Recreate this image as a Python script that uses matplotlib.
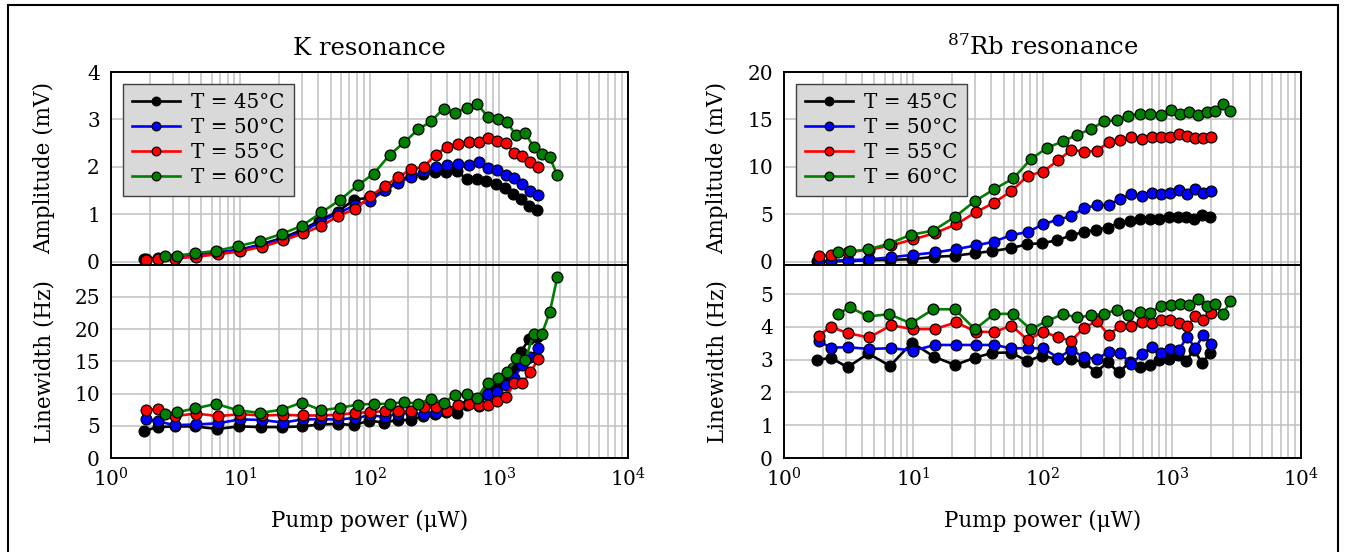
import matplotlib
matplotlib.use("Agg")
import matplotlib.pyplot as plt
from matplotlib.patches import Rectangle
from matplotlib.ticker import LogLocator, NullFormatter

# ---------------------------------------------------------------------------
# Data
# ---------------------------------------------------------------------------

temps = ["T = 45°C", "T = 50°C", "T = 55°C", "T = 60°C"]
colors = ["black", "blue", "red", "green"]

# pump power (uW) for each temperature series
x45 = [1.8, 2.3, 3.1, 4.5, 6.6, 9.8, 14.5, 21, 30, 41, 57, 76, 99, 130, 166, 208,
       260, 320, 390, 475, 566, 680, 800, 950, 1110, 1290, 1490, 1720, 1980]
x50 = [1.85, 2.3, 3.1, 4.55, 6.75, 10.0, 14.8, 21.5, 30.5, 42, 57.5, 77, 101, 132, 167,
       210, 263, 325, 397, 485, 584, 700, 820, 965, 1135, 1320, 1520, 1760, 2030]
x55 = x50
x60 = [2.62, 3.24, 4.48, 6.5, 9.6, 14.3, 21, 30, 42.5, 59.5, 81, 108, 144, 186, 238,
       299, 374, 462, 566, 680, 820, 982, 1160, 1360, 1600, 1860, 2160, 2480, 2840]

# K resonance
k_amp45 = [0.06, 0.09, 0.09, 0.13, 0.18, 0.25, 0.37, 0.5, 0.67, 0.87, 1.06, 1.31, 1.35, 1.52,
           1.7, 1.81, 1.86, 1.89, 1.89, 1.91, 1.74, 1.74, 1.7, 1.63, 1.55, 1.42, 1.33, 1.17, 1.09]
k_amp50 = [0.06, 0.07, 0.08, 0.14, 0.2, 0.26, 0.35, 0.48, 0.64, 0.85, 1.03, 1.19, 1.29, 1.51,
           1.67, 1.79, 1.91, 2.0, 2.05, 2.07, 2.04, 2.11, 1.97, 1.93, 1.82, 1.77, 1.65, 1.5, 1.4]
k_amp55 = [0.04, 0.06, 0.07, 0.11, 0.16, 0.22, 0.32, 0.45, 0.6, 0.75, 0.97, 1.11, 1.38, 1.6,
           1.79, 1.95, 2.0, 2.26, 2.42, 2.49, 2.52, 2.53, 2.6, 2.55, 2.5, 2.3, 2.22, 2.11, 1.99]
k_amp60 = [0.12, 0.13, 0.18, 0.23, 0.33, 0.44, 0.59, 0.76, 1.04, 1.31, 1.61, 1.86, 2.26, 2.52,
           2.79, 2.96, 3.23, 3.14, 3.25, 3.33, 3.06, 3.01, 2.94, 2.67, 2.71, 2.43, 2.28, 2.2, 1.83]

k_lw45 = [4.2, 4.8, 4.9, 4.9, 4.5, 4.9, 4.8, 4.8, 4.9, 5.2, 5.3, 5.1, 5.8, 5.5, 5.9, 5.9,
          6.5, 6.9, 7.1, 7.0, 8.3, 9.0, 10.0, 11.0, 12.3, 14.0, 16.5, 18.5, 18.8]
k_lw50 = [6.0, 5.7, 5.1, 5.2, 5.4, 6.0, 5.9, 5.5, 6.0, 6.0, 6.0, 6.2, 6.6, 6.4, 6.9, 7.0,
          6.8, 7.0, 7.5, 8.1, 8.5, 8.0, 10.0, 10.3, 11.3, 12.4, 14.5, 15.7, 17.0]
k_lw55 = [7.4, 7.6, 6.5, 6.9, 6.5, 6.8, 6.6, 6.7, 6.6, 6.6, 6.7, 7.0, 7.1, 7.3, 7.3, 7.3,
          7.9, 7.9, 7.3, 8.2, 8.4, 8.3, 8.3, 8.8, 9.4, 11.6, 11.6, 13.4, 15.4]
k_lw60 = [6.9, 7.1, 7.7, 8.4, 7.4, 7.0, 7.5, 8.6, 7.4, 7.8, 8.3, 8.4, 8.4, 8.7, 8.4, 9.2,
          8.6, 9.8, 10.0, 9.3, 11.7, 12.4, 13.3, 15.5, 15.2, 19.2, 19.3, 22.6, 28.1]

# 87Rb resonance
rb_amp45 = [0.04, 0.07, 0.07, 0.18, 0.21, 0.28, 0.53, 0.64, 0.92, 1.13, 1.45, 1.84, 1.98, 2.26,
            2.79, 3.14, 3.39, 3.6, 4.1, 4.31, 4.56, 4.56, 4.56, 4.73, 4.73, 4.73, 4.56, 4.91, 4.73]
rb_amp50 = [0.07, 0.11, 0.18, 0.25, 0.49, 0.74, 0.99, 1.34, 1.73, 2.12, 2.83, 3.14, 3.96, 4.45,
            4.81, 5.69, 5.94, 6.04, 6.57, 7.17, 6.93, 7.28, 7.14, 7.28, 7.56, 7.17, 7.67, 7.21, 7.49]
rb_amp55 = [0.6, 0.74, 1.0, 1.27, 1.73, 2.37, 3.04, 3.96, 5.23, 6.22, 7.46, 9.08, 9.5, 10.7,
            11.8, 11.6, 11.7, 12.6, 12.8, 13.1, 12.9, 13.2, 13.1, 13.1, 13.5, 13.3, 13.0, 13.0, 13.1]
rb_amp60 = [1.02, 1.10, 1.31, 1.91, 2.86, 3.29, 4.74, 6.4, 7.67, 8.8, 10.8, 12.0, 12.7, 13.4,
            14.0, 14.8, 14.9, 15.4, 15.6, 15.6, 15.5, 16.0, 15.6, 15.8, 15.5, 15.8, 15.9, 16.6, 15.9]

rb_lw45 = [2.99, 3.06, 2.77, 3.19, 2.81, 3.52, 3.09, 2.84, 3.06, 3.21, 3.22, 2.96, 3.12, 3.02,
           3.02, 2.92, 2.63, 2.92, 2.61, 2.94, 2.77, 2.84, 2.99, 3.02, 3.14, 2.97, 3.30, 2.89, 3.21]
rb_lw50 = [3.57, 3.37, 3.38, 3.33, 3.35, 3.28, 3.45, 3.45, 3.45, 3.45, 3.35, 3.35, 3.35, 3.06,
           3.30, 3.07, 3.02, 3.24, 3.22, 2.87, 3.16, 3.38, 3.19, 3.33, 3.30, 3.70, 3.35, 3.76, 3.47]
rb_lw55 = [3.73, 4.01, 3.81, 3.68, 4.05, 3.93, 3.94, 4.14, 3.86, 3.84, 4.04, 3.60, 3.86, 3.68,
           3.58, 3.98, 4.18, 3.76, 4.03, 4.03, 4.14, 4.11, 4.21, 4.21, 4.13, 4.03, 4.32, 4.21, 4.44]
rb_lw60 = [4.40, 4.60, 4.32, 4.39, 4.11, 4.54, 4.54, 3.93, 4.40, 4.40, 3.93, 4.18, 4.39, 4.29,
           4.35, 4.40, 4.52, 4.37, 4.45, 4.42, 4.65, 4.68, 4.70, 4.68, 4.86, 4.65, 4.70, 4.39, 4.78]

xs = [x45, x50, x55, x60]
k_amp = [k_amp45, k_amp50, k_amp55, k_amp60]
k_lw = [k_lw45, k_lw50, k_lw55, k_lw60]
rb_amp = [rb_amp45, rb_amp50, rb_amp55, rb_amp60]
rb_lw = [rb_lw45, rb_lw50, rb_lw55, rb_lw60]


# ---------------------------------------------------------------------------
# Plotting
# ---------------------------------------------------------------------------

plt.rcParams["font.family"] = "DejaVu Serif"
plt.rcParams["mathtext.fontset"] = "dejavuserif"
TICK_FS = 14.5
LABEL_FS = 15.5
LEG_FS = 14.3
TITLE_FS = 17.5


def style_axes(ax, ylim, yticks):
    ax.set_xscale("log")
    ax.set_xlim(1, 1e4)
    ax.set_ylim(*ylim)
    ax.set_yticks(yticks)
    ax.xaxis.set_major_locator(LogLocator(base=10, numticks=10))
    ax.xaxis.set_minor_locator(LogLocator(base=10, subs=range(2, 10), numticks=20))
    ax.xaxis.set_minor_formatter(NullFormatter())
    ax.grid(True, which="both", axis="x", color="#c0c0c0", linewidth=1.1)
    ax.grid(True, which="major", axis="y", color="#c0c0c0", linewidth=1.1)
    ax.set_axisbelow(True)
    ax.tick_params(which="both", length=0, labelsize=TICK_FS)
    ax.tick_params(axis="y", pad=8)
    ax.tick_params(axis="x", pad=7)
    for s in ax.spines.values():
        s.set_linewidth(1.4)


def draw_series(ax, ys):
    for i in range(4):
        ax.plot(xs[i], ys[i], "-o", color=colors[i], lw=1.9, ms=7.8,
                mec="black", mew=0.9, label=temps[i], zorder=3 + i)


fig = plt.figure(figsize=(13.45, 5.52), dpi=100)

W = 1345.0
H = 552.0
panels = [
    (111, "K resonance", k_amp, k_lw, (-0.06, 4), [0, 1, 2, 3, 4], (0, 30), [0, 5, 10, 15, 20, 25]),
    (784, r"$^{87}$Rb resonance", rb_amp, rb_lw, (-0.3, 20), [0, 5, 10, 15, 20], (0, 5.9), [0, 1, 2, 3, 4, 5]),
]

for left_px, title, amp, lw, ylim_a, yt_a, ylim_l, yt_l in panels:
    ax_t = fig.add_axes([left_px / W, 1 - 264.7 / H, 517 / W, 192.7 / H])
    ax_b = fig.add_axes([left_px / W, 1 - 458 / H, 517 / W, 193.3 / H])

    draw_series(ax_t, amp)
    draw_series(ax_b, lw)

    style_axes(ax_t, ylim_a, yt_a)
    style_axes(ax_b, ylim_l, yt_l)
    ax_t.tick_params(axis="x", labelbottom=False)

    ax_t.set_title(title, fontsize=TITLE_FS, pad=12)
    ax_t.set_ylabel("Amplitude (mV)", fontsize=LABEL_FS)
    ax_b.set_ylabel("Linewidth (Hz)", fontsize=LABEL_FS)
    ax_t.yaxis.set_label_coords(-0.108, 0.5)
    ax_b.yaxis.set_label_coords(-0.108, 0.5)
    ax_b.set_xlabel("Pump power (μW)", fontsize=LABEL_FS)
    ax_b.xaxis.set_label_coords(0.5, -0.27)

    leg = ax_t.legend(loc="upper left", fontsize=LEG_FS, numpoints=1, fancybox=False,
                      framealpha=1, facecolor="#d9d9d9", edgecolor="#404040",
                      handlelength=2.4, handletextpad=0.6, borderpad=0.45,
                      labelspacing=0.3, borderaxespad=0.6, markerscale=0.8)
    leg.get_frame().set_linewidth(1.0)

# thin frame around the figure
fig.patches.append(Rectangle((8 / W, -0.02), 1330 / W, 1 - 5 / H + 0.02,
                             transform=fig.transFigure, fill=False,
                             edgecolor="black", linewidth=1.5))

fig.savefig("out.png", dpi=100)
